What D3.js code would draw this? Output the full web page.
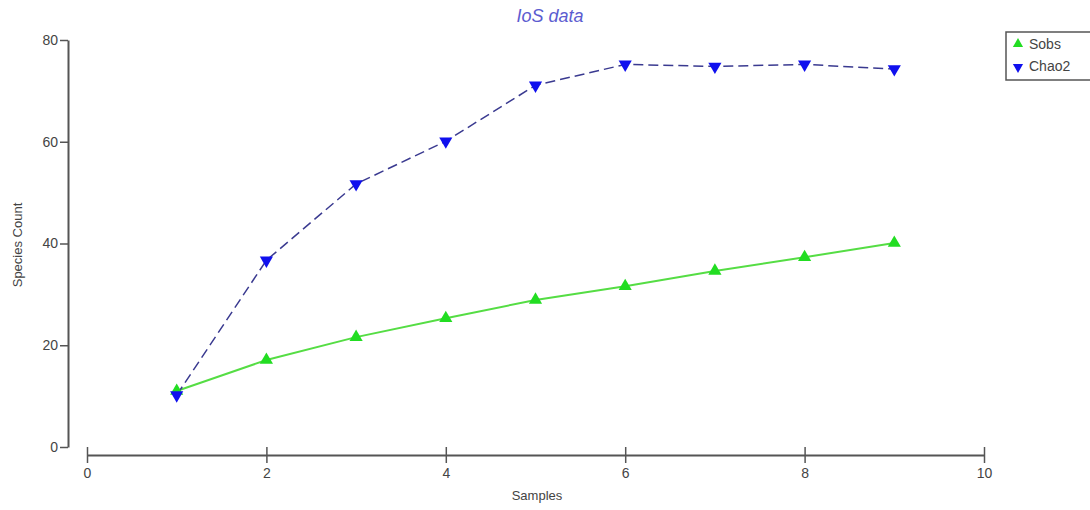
<!DOCTYPE html>
<html><head><meta charset="utf-8">
<script src="https://cdn.jsdelivr.net/npm/d3@7"></script>
<style>body{margin:0;background:#fff}svg{display:block}</style>
</head><body>
<script>
const samples = [1,2,3,4,5,6,7,8,9];
const sobs = [11.0,17.1,21.6,25.3,28.9,31.6,34.6,37.3,40.1];
const chao2 = [10.2,36.7,51.7,60.1,71.1,75.2,74.8,75.2,74.3];
const xTicks = [0,2,4,6,8,10];
const yTicks = [0,20,40,60,80];
const seriesNames = ["Sobs","Chao2"];

const W=1090,H=510;
const svg=d3.select("body").append("svg").attr("width",W).attr("height",H);
const x=d3.scaleLinear().domain([0,10]).range([87,984]);
const y=d3.scaleLinear().domain([0,80]).range([447,40]);
const font="Liberation Sans, Arial, sans-serif";

// title
svg.append("text").attr("x",550).attr("y",22).attr("text-anchor","middle")
 .attr("font-family",font).attr("font-size",18).attr("font-style","italic")
 .attr("fill","#5c5cd0").text("IoS data");

// y axis
const ya=svg.append("g").attr("transform","translate(68,0)")
 .call(d3.axisLeft(y).tickValues(yTicks).tickSize(8).tickSizeOuter(0));
ya.select(".domain").attr("stroke","#555").attr("stroke-width",2);
ya.selectAll(".tick line").attr("stroke","#555").attr("stroke-width",1.5);
ya.selectAll(".tick text").attr("font-family",font).attr("font-size",14).attr("fill","#444").attr("x",-10);

// x axis
const xa=svg.append("g").attr("transform","translate(0,455)")
 .call(d3.axisBottom(x).tickValues(xTicks).tickSize(0).tickSizeOuter(0));
xa.select(".domain").attr("stroke","#555").attr("stroke-width",2);
xa.selectAll(".tick").append("line").attr("y1",-8).attr("y2",8).attr("stroke","#555").attr("stroke-width",1.5);
xa.selectAll(".tick text").attr("font-family",font).attr("font-size",14).attr("fill","#444").attr("dy","1.45em");

// axis labels
svg.append("text").attr("transform","translate(22,245) rotate(-90)").attr("text-anchor","middle")
 .attr("font-family",font).attr("font-size",13).attr("fill","#444").text("Species Count");
svg.append("text").attr("x",537).attr("y",500).attr("text-anchor","middle")
 .attr("font-family",font).attr("font-size",13).attr("fill","#444").text("Samples");

const line=d3.line().x(d=>x(d[0])).y(d=>y(d[1]));
const sobsData=samples.map((s,i)=>[s,sobs[i]]);
const chaoData=samples.map((s,i)=>[s,chao2[i]]);

svg.append("path").datum(sobsData).attr("d",line).attr("fill","none").attr("stroke","#55dd44").attr("stroke-width",2);
svg.append("path").datum(chaoData).attr("d",line).attr("fill","none").attr("stroke","#3a3a90").attr("stroke-width",1.5).attr("stroke-dasharray","10,5");

const tri=d3.symbol().type(d3.symbolTriangle).size(75);
svg.selectAll(".sobs").data(sobsData).enter().append("path")
 .attr("d",tri).attr("transform",d=>`translate(${x(d[0])},${y(d[1])})`).attr("fill","#22dd22");
svg.selectAll(".chao").data(chaoData).enter().append("path")
 .attr("d",tri).attr("transform",d=>`translate(${x(d[0])},${y(d[1])}) rotate(180)`).attr("fill","#1010ee");

// legend
const lg=svg.append("g");
lg.append("rect").attr("x",1006).attr("y",32).attr("width",90).attr("height",48)
 .attr("fill","#fff").attr("stroke","#555").attr("stroke-width",1.5);
const lsym=d3.symbol().type(d3.symbolTriangle).size(45);
lg.append("path").attr("d",lsym).attr("transform","translate(1018,44)").attr("fill","#22dd22");
lg.append("path").attr("d",lsym).attr("transform","translate(1018,67) rotate(180)").attr("fill","#1010ee");
lg.selectAll(".lt").data(seriesNames).enter().append("text")
 .attr("x",1029).attr("y",(d,i)=>49+i*22).attr("font-family",font).attr("font-size",14).attr("fill","#444").text(d=>d);
</script>
</body></html>
